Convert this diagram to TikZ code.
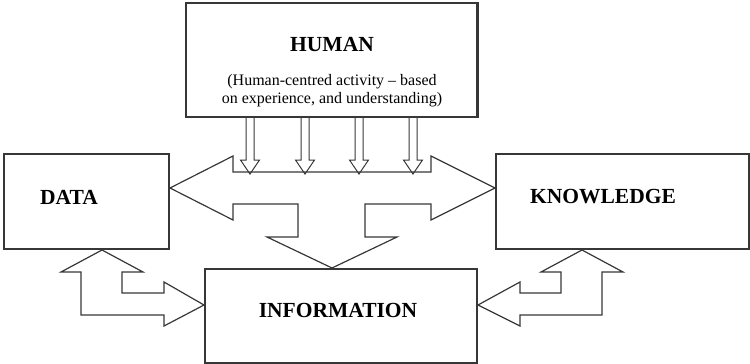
\documentclass[tikz,border=0pt]{standalone}
\usepackage{fontspec}
\setmainfont{Liberation Serif}
\definecolor{linegray}{RGB}{55,55,55}
\begin{document}
\begin{tikzpicture}[x=1pt,y=-1pt,
  box/.style={draw=linegray, line width=1.3pt, inner sep=0pt},
  blockarrow/.style={draw=linegray, line width=1.2pt, line join=miter},
  title/.style={font=\fontsize{21.5}{24}\selectfont\bfseries, inner sep=0pt},
  note/.style={font=\fontsize{16}{18}\selectfont, align=center, inner sep=0pt},
]
\useasboundingbox (0,0) rectangle (750,364);

% boxes
\node[box, minimum width=291pt, minimum height=114pt] (human) at (331.5,60) {};
\draw[linegray, line width=2.4pt] (human.north east) -- (human.south east);
\node[box, minimum width=165pt, minimum height=95pt] (data) at (86.5,201.5) {};
\node[box, minimum width=253pt, minimum height=95pt] (knowledge) at (622.5,201.5) {};
\node[box, minimum width=272pt, minimum height=94pt] (information) at (341,316) {};

% labels
\node[title] (humanlabel) at (332,45) {HUMAN};
\node[note] (humannote) at (332,91) {(Human-centred activity -- based\\on experience, and understanding)};
\node[title] (datalabel) at (69,197) {DATA};
\node[title] (knowledgelabel) at (603,197) {KNOWLEDGE};
\node[title] (informationlabel) at (338,310) {INFORMATION};

% central block arrow: DATA <-> KNOWLEDGE, branching down to INFORMATION
\draw[blockarrow] (170,188) -- (233,156) -- (233,172) -- (431,172) -- (431,156)
  -- (495,188) -- (431,220) -- (431,204) -- (365,204) -- (365,237) -- (397,237)
  -- (332,268) -- (267,237) -- (298,237) -- (298,204) -- (233,204) -- (233,220) -- cycle;

% human input arrows
\foreach \c in {250,305,359,413}
  \draw[blockarrow, line width=1pt] ({\c-4},117) -- ({\c-4},160) -- ({\c-9.5},160)
    -- (\c,174) -- ({\c+9.5},160) -- ({\c+4},160) -- ({\c+4},117);

% DATA <-> INFORMATION
\draw[blockarrow] (102,250) -- (143,272) -- (122,272) -- (122,293) -- (164,293)
  -- (164,282) -- (204,305) -- (164,326) -- (164,315) -- (81,315) -- (81,272)
  -- (61,272) -- cycle;

% KNOWLEDGE <-> INFORMATION
\draw[blockarrow] (582,250) -- (623,272) -- (602,272) -- (602,315) -- (520,315)
  -- (520,326) -- (478,305) -- (520,282) -- (520,293) -- (561,293) -- (561,272)
  -- (541,272) -- cycle;
\end{tikzpicture}
\end{document}
